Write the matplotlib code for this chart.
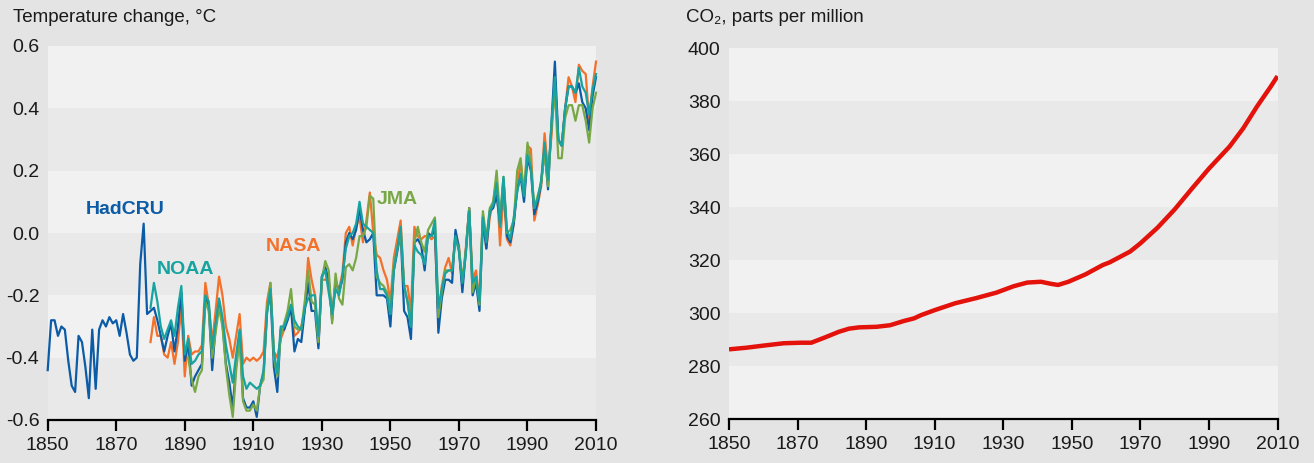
import matplotlib
matplotlib.use("Agg")
import matplotlib.pyplot as plt
import numpy as np

# ---------------- data ----------------
hadcru_years = list(range(1850, 2011))
hadcru = [
    -0.44, -0.28, -0.28, -0.33, -0.30, -0.31, -0.41, -0.49, -0.51, -0.33,   # 1850s
    -0.35, -0.43, -0.53, -0.31, -0.50, -0.31, -0.28, -0.30, -0.27, -0.29,   # 1860s
    -0.28, -0.33, -0.26, -0.32, -0.39, -0.41, -0.40, -0.10, 0.03, -0.26,    # 1870s
    -0.25, -0.24, -0.28, -0.33, -0.38, -0.33, -0.29, -0.38, -0.30, -0.19,   # 1880s
    -0.41, -0.35, -0.49, -0.46, -0.44, -0.42, -0.21, -0.24, -0.44, -0.30,   # 1890s
    -0.22, -0.29, -0.42, -0.48, -0.56, -0.42, -0.32, -0.53, -0.56, -0.56,   # 1900s
    -0.54, -0.59, -0.49, -0.45, -0.25, -0.19, -0.43, -0.51, -0.31, -0.31,   # 1910s
    -0.28, -0.24, -0.38, -0.34, -0.35, -0.25, -0.16, -0.25, -0.25, -0.37,   # 1920s
    -0.14, -0.11, -0.15, -0.28, -0.15, -0.19, -0.15, -0.03, 0.00, -0.02,    # 1930s
    0.01, 0.08, 0.01, -0.03, -0.02, 0.00, -0.20, -0.20, -0.20, -0.21,       # 1940s
    -0.30, -0.12, -0.06, 0.00, -0.25, -0.27, -0.34, -0.03, -0.02, -0.04,    # 1950s
    -0.12, 0.00, -0.01, 0.01, -0.32, -0.21, -0.15, -0.15, -0.16, 0.01,      # 1960s
    -0.05, -0.19, -0.06, 0.08, -0.20, -0.16, -0.25, 0.04, -0.05, 0.07,      # 1970s
    0.08, 0.12, 0.03, 0.17, -0.01, -0.03, 0.03, 0.14, 0.18, 0.10,           # 1980s
    0.24, 0.20, 0.06, 0.10, 0.16, 0.27, 0.14, 0.35, 0.55, 0.30,             # 1990s
    0.28, 0.40, 0.47, 0.47, 0.45, 0.48, 0.42, 0.40, 0.33, 0.44,             # 2000s
    0.50,                                                                   # 2010
]

noaa_years = list(range(1880, 2011))
noaa = [
    -0.24, -0.16, -0.22, -0.30, -0.34, -0.31, -0.28, -0.33, -0.24, -0.17,
    -0.39, -0.34, -0.42, -0.41, -0.39, -0.38, -0.20, -0.22, -0.37, -0.29,
    -0.21, -0.27, -0.36, -0.42, -0.48, -0.39, -0.31, -0.46, -0.50, -0.48,
    -0.49, -0.50, -0.49, -0.44, -0.26, -0.18, -0.38, -0.45, -0.30, -0.30,
    -0.27, -0.23, -0.28, -0.30, -0.31, -0.24, -0.21, -0.20, -0.20, -0.33,
    -0.14, -0.12, -0.19, -0.26, -0.18, -0.20, -0.14, -0.05, -0.01, 0.00,
    0.03, 0.10, 0.03, 0.02, 0.01, 0.00, -0.12, -0.18, -0.18, -0.20,
    -0.26, -0.12, -0.05, 0.02, -0.17, -0.22, -0.30, -0.04, -0.06, -0.07,
    -0.10, -0.01, -0.01, 0.04, -0.24, -0.18, -0.13, -0.12, -0.12, -0.01,
    -0.06, -0.16, -0.07, 0.07, -0.16, -0.14, -0.22, 0.05, -0.03, 0.07,
    0.09, 0.16, 0.02, 0.18, 0.01, -0.02, 0.05, 0.13, 0.19, 0.12,
    0.25, 0.21, 0.08, 0.11, 0.17, 0.29, 0.17, 0.35, 0.50, 0.30,
    0.28, 0.40, 0.47, 0.47, 0.45, 0.53, 0.47, 0.45, 0.38, 0.46,
    0.51,
]

nasa_years = list(range(1880, 2011))
nasa = [
    -0.35, -0.27, -0.33, -0.33, -0.39, -0.40, -0.35, -0.42, -0.35, -0.24,
    -0.46, -0.33, -0.39, -0.38, -0.38, -0.36, -0.16, -0.23, -0.35, -0.25,
    -0.14, -0.20, -0.30, -0.34, -0.40, -0.33, -0.26, -0.42, -0.40, -0.41,
    -0.40, -0.41, -0.40, -0.38, -0.22, -0.16, -0.38, -0.40, -0.34, -0.31,
    -0.26, -0.23, -0.33, -0.32, -0.30, -0.25, -0.08, -0.15, -0.20, -0.36,
    -0.15, -0.15, -0.15, -0.26, -0.16, -0.18, -0.13, 0.00, 0.02, -0.04,
    0.02, 0.05, -0.03, 0.04, 0.13, 0.00, -0.07, -0.08, -0.12, -0.15,
    -0.22, -0.08, -0.02, 0.04, -0.17, -0.17, -0.25, 0.02, -0.01, -0.02,
    -0.01, -0.01, -0.02, -0.01, -0.28, -0.17, -0.11, -0.08, -0.13, 0.00,
    -0.04, -0.17, -0.05, 0.08, -0.15, -0.12, -0.22, 0.06, -0.05, 0.05,
    0.10, 0.17, -0.04, 0.13, -0.02, -0.04, 0.03, 0.15, 0.23, 0.12,
    0.28, 0.27, 0.04, 0.09, 0.15, 0.32, 0.20, 0.31, 0.49, 0.30,
    0.28, 0.40, 0.50, 0.47, 0.42, 0.54, 0.52, 0.51, 0.36, 0.47,
    0.55,
]

jma_years = list(range(1891, 2011))
jma = [
    -0.40, -0.47, -0.51, -0.46, -0.44, -0.22, -0.25, -0.40, -0.32,          # 1891-1899
    -0.24, -0.30, -0.43, -0.52, -0.59, -0.44, -0.34, -0.54, -0.57, -0.57,
    -0.55, -0.57, -0.49, -0.47, -0.24, -0.16, -0.40, -0.46, -0.33, -0.29,
    -0.25, -0.18, -0.30, -0.31, -0.31, -0.22, -0.12, -0.22, -0.23, -0.35,
    -0.15, -0.09, -0.12, -0.29, -0.13, -0.21, -0.23, -0.11, -0.10, -0.12,
    -0.08, -0.01, -0.01, 0.02, 0.12, 0.11, -0.14, -0.16, -0.17, -0.19,
    -0.26, -0.10, -0.05, 0.00, -0.17, -0.22, -0.30, -0.03, 0.02, -0.03,
    -0.06, 0.01, 0.03, 0.05, -0.27, -0.19, -0.12, -0.12, -0.12, -0.02,
    -0.05, -0.15, -0.06, 0.08, -0.19, -0.14, -0.23, 0.07, -0.02, 0.08,
    0.10, 0.20, 0.05, 0.18, 0.00, 0.01, 0.04, 0.20, 0.24, 0.12,
    0.29, 0.22, 0.08, 0.12, 0.16, 0.26, 0.15, 0.34, 0.46, 0.24,
    0.24, 0.37, 0.41, 0.41, 0.36, 0.41, 0.41, 0.36, 0.29, 0.40,
    0.45,
]

co2_years = [1850, 1855, 1860, 1866, 1871, 1874, 1878, 1882, 1885, 1888,
             1893, 1897, 1901, 1904, 1906, 1910, 1916, 1922, 1928, 1933,
             1937, 1941, 1944, 1946, 1949, 1954, 1959, 1961, 1967, 1970,
             1975, 1980, 1985, 1990, 1996, 2000, 2004, 2008, 2010]
co2 = [286.4, 287.0, 287.8, 288.7, 288.9, 288.9, 290.9, 293.0, 294.2, 294.7,
       294.9, 295.5, 297.1, 298.1, 299.3, 301.2, 303.8, 305.7, 307.8, 310.2,
       311.6, 311.9, 311.1, 310.7, 311.9, 314.7, 318.2, 319.2, 323.3, 326.4,
       332.3, 339.2, 347.0, 354.6, 362.9, 369.8, 378.0, 385.5, 389.5]

temp_ticks = [-0.6, -0.4, -0.2, 0.0, 0.2, 0.4, 0.6]
co2_ticks = [260, 280, 300, 320, 340, 360, 380, 400]
year_ticks = [1850, 1870, 1890, 1910, 1930, 1950, 1970, 1990, 2010]

# ---------------- style ----------------
FONT = ['Liberation Sans', 'DejaVu Sans']
plt.rcParams['font.family'] = FONT

BG = '#e4e4e4'
LIGHT = '#f1f1f1'
DARK = '#e9e9e9'
C_HAD = '#0b5ba6'
C_NOAA = '#17a3a0'
C_NASA = '#f3712a'
C_JMA = '#78a845'
C_RED = '#e3120b'

W, H = 1314, 463
fig = plt.figure(figsize=(W / 100, H / 100), dpi=100, facecolor=BG)

def px_axes(x0, x1, ytop, ybot):
    return fig.add_axes([x0 / W, (H - ybot) / H, (x1 - x0) / W, (ybot - ytop) / H])

ax1 = px_axes(47.7, 596, 46, 420)
ax2 = px_axes(729, 1277.5, 48.3, 419.3)

def style(ax, ticks, fmt):
    ax.set_facecolor(LIGHT)
    for i in range(len(ticks) - 1):
        col = LIGHT if (len(ticks) - 2 - i) % 2 == 0 else DARK
        ax.axhspan(ticks[i], ticks[i + 1], color=col, lw=0, zorder=0)
    ax.set_ylim(ticks[0], ticks[-1])
    ax.set_xlim(1850, 2010)
    ax.set_yticks(ticks)
    ax.set_yticklabels([fmt(t) for t in ticks])
    ax.set_xticks(year_ticks)
    ax.set_xticklabels([str(y) for y in year_ticks])
    for s in ['top', 'right', 'left']:
        ax.spines[s].set_visible(False)
    ax.spines['bottom'].set_color('black')
    ax.spines['bottom'].set_linewidth(1.6)
    ax.spines['bottom'].set_zorder(5)
    ax.tick_params(axis='y', length=0, pad=6, labelsize=14, labelcolor='#1a1a1a')
    ax.tick_params(axis='x', length=8, width=1.6, direction='out', pad=4,
                   labelsize=14, labelcolor='#1a1a1a', color='black')

style(ax1, temp_ticks, lambda t: ('%.1f' % t).replace('\u2212', '-'))
style(ax2, co2_ticks, lambda t: '%d' % t)

# temperature series
ax1.plot(nasa_years, nasa, color=C_NASA, lw=1.6, zorder=2, clip_on=False)
ax1.plot(hadcru_years, hadcru, color=C_HAD, lw=1.6, zorder=3, clip_on=False)
ax1.plot(jma_years, jma, color=C_JMA, lw=1.6, zorder=4, clip_on=False)
ax1.plot(noaa_years, noaa, color=C_NOAA, lw=1.6, zorder=4.5, clip_on=False)

lab = dict(fontsize=14, fontweight='bold', va='center', ha='left')
ax1.text(1861.2, 0.075, 'HadCRU', color=C_HAD, **lab)
ax1.text(1881.9, -0.118, 'NOAA', color=C_NOAA, **lab)
ax1.text(1913.7, -0.044, 'NASA', color=C_NASA, **lab)
ax1.text(1946.1, 0.107, 'JMA', color=C_JMA, **lab)

# CO2 series
ax2.plot(co2_years, co2, color=C_RED, lw=3.2, zorder=3,
         solid_capstyle='butt', solid_joinstyle='round')

fig.text(13 / W, 1 - 18 / H, 'Temperature change, °C', fontsize=13.5,
         va='center', ha='left', color='#1a1a1a')
fig.text(686 / W, 1 - 18 / H, 'CO\u2082, parts per million', fontsize=13.5,
         va='center', ha='left', color='#1a1a1a')

fig.savefig('out.png', dpi=100, facecolor=BG)
